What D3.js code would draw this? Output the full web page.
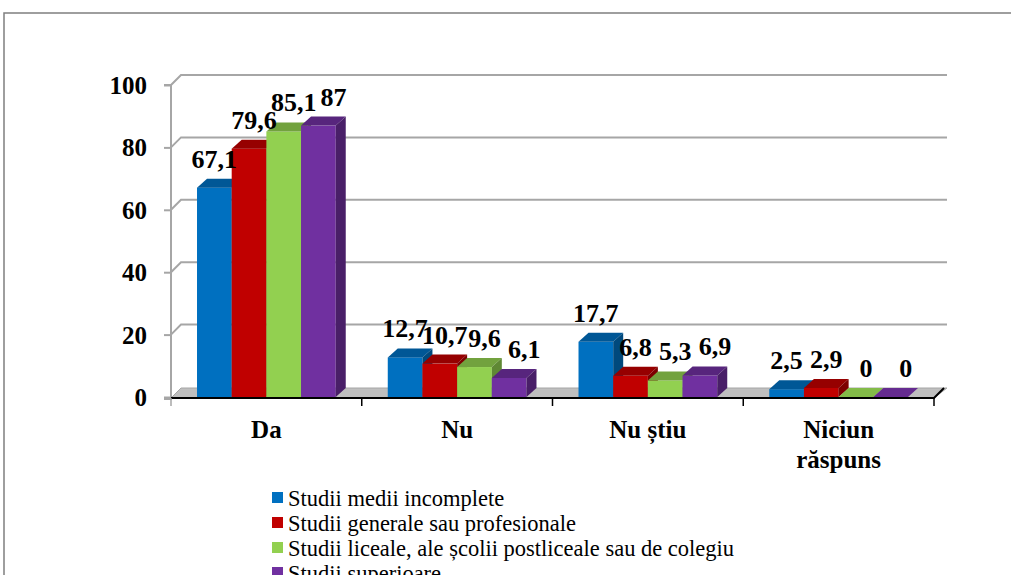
<!DOCTYPE html>
<html>
<head>
<meta charset="utf-8">
<script src="https://cdn.jsdelivr.net/npm/d3@7"></script>
</head>
<body style="margin:0; background:#fff">
<div id="chart"></div>
<script>
// chart data
const categories = ["Da", "Nu", "Nu știu", "Niciun răspuns"];
const series = [
    "Studii medii incomplete",
    "Studii generale sau profesionale",
    "Studii liceale, ale școlii postliceale sau de colegiu",
    "Studii superioare"
];
const values = [
    [67.1, 12.7, 17.7, 2.5],
    [79.6, 10.7, 6.8, 2.9],
    [85.1, 9.6, 5.3, 0],
    [87, 6.1, 6.9, 0]
];
const yTicks = [0, 20, 40, 60, 80, 100];
const colors = ["#0070C0", "#C00000", "#92D050", "#7030A0"];

const W = 1011, H = 575;
const serifFont = "Times New Roman";
const depth = { dx: 10, dy: -10 };

const svg = d3.select("#chart").append("svg")
    .attr("width", W)
    .attr("height", H)
    .style("display", "block");

// every text gets the serif font through its own style attribute
function styleText(sel, size, bold) {
    return sel.attr("style", "font-family: " + serifFont + "; font-size: " + size + "px; font-weight: " + (bold ? "bold" : "normal"));
}

// outer frame (cut by the window on the right and bottom)
svg.append("path")
    .attr("d", "M4," + H + "V13H" + W)
    .attr("fill", "none")
    .attr("stroke", "#7f7f7f")
    .attr("stroke-width", 1.5);

const x = d3.scaleBand()
    .domain(categories)
    .range([171, 934])
    .paddingInner(0);

const xs = d3.scaleBand()
    .domain(d3.range(series.length))
    .range([0, x.bandwidth()])
    .paddingInner(0)
    .paddingOuter(0.75);

const y = d3.scaleLinear()
    .domain([0, 100])
    .range([397, 85]);

const x0 = x.range()[0], x1 = x.range()[1];

// back gridlines with the diagonal from the left wall
const grid = svg.append("g");
yTicks.filter(d => d > 0).forEach(t => {
    grid.append("polyline")
        .attr("points", [[x0, y(t)], [x0 + depth.dx, y(t) + depth.dy], [x1 + 13, y(t) + depth.dy]].join(" "))
        .attr("fill", "none")
        .attr("stroke", "#a6a6a6")
        .attr("stroke-width", 2);
});

// floor
svg.append("polygon")
    .attr("points", [
        [x0, y(0) + 1], [x0 + depth.dx, y(0) + 1 + depth.dy],
        [x1 + 13, y(0) + 1 + depth.dy], [x1, y(0) + 1]
    ].join(" "))
    .attr("fill", "#bfbfbf")
    .attr("stroke", "#a6a6a6")
    .attr("stroke-width", 1);

// y axis: line and ticks from d3.axisLeft, labels drawn as plain texts
const yAxis = d3.axisLeft(y)
    .tickValues(yTicks)
    .tickSize(7)
    .tickFormat("");
const yg = svg.append("g")
    .attr("transform", "translate(" + x0 + ",0)")
    .call(yAxis);
yg.select(".domain").attr("stroke", "#a6a6a6").attr("stroke-width", 2)
    .attr("d", "M-7," + y(100) + "H0V" + (y(0) + 2) + "H-7");
yg.selectAll(".tick line").attr("stroke", "#a6a6a6").attr("stroke-width", 2);
yg.selectAll(".tick text").remove();
yTicks.forEach(t => {
    styleText(svg.append("text"), 25, true)
        .attr("x", x0 - 24)
        .attr("y", y(t) + 9)
        .attr("text-anchor", "end")
        .attr("fill", "#000")
        .text(t);
});

// bars
const bars = svg.append("g");
categories.forEach((c, ci) => {
    series.forEach((s, si) => {
        const v = values[si][ci];
        const bx = x(c) + xs(si);
        const bw = xs.bandwidth();
        const top = y(v), base = y(0);
        const col = d3.color(colors[si]);
        const g = bars.append("g");
        if (v > 0) {
            g.append("rect")
                .attr("x", bx).attr("y", top)
                .attr("width", bw).attr("height", base - top)
                .attr("fill", col);
        }
        // top face
        g.append("polygon")
            .attr("points", [[bx, top], [bx + depth.dx, top + depth.dy + 1], [bx + bw + depth.dx, top + depth.dy + 1], [bx + bw, top]].join(" "))
            .attr("fill", v > 0 ? col.darker(0.7) : col.darker(0.3));
        // side face
        g.append("polygon")
            .attr("points", [[bx + bw, top], [bx + bw + depth.dx, top + depth.dy + 1], [bx + bw + depth.dx, base + depth.dy + 1], [bx + bw, base]].join(" "))
            .attr("fill", col.darker(1.2));
    });
});

// front floor edge and category ticks
const catTicks = categories.map(c => x(c)).concat([x1]);
const xg = svg.append("g")
    .attr("transform", "translate(0," + (y(0) + 1) + ")");
xg.append("path")
    .attr("d", "M" + x0 + ",0H" + x1 + "l" + depth.dx + "," + depth.dy)
    .attr("fill", "none")
    .attr("stroke", "#000")
    .attr("stroke-width", 2);
xg.selectAll(".cat-tick")
    .data(catTicks)
    .enter().append("line")
    .attr("x1", d => d).attr("x2", d => d)
    .attr("y1", 0).attr("y2", 8)
    .attr("stroke", d => d === x0 ? "#a6a6a6" : "#000")
    .attr("stroke-width", 1.5);

// category labels
categories.forEach(c => {
    const words = c === "Niciun răspuns" ? ["Niciun", "răspuns"] : [c];
    words.forEach((w, i) => {
        styleText(svg.append("text"), 25, true)
            .attr("x", x(c) + x.bandwidth() / 2)
            .attr("y", 438 + i * 30)
            .attr("text-anchor", "middle")
            .text(w);
    });
});

// data labels
const fmt = v => String(v).replace(".", ",");
categories.forEach((c, ci) => {
    series.forEach((s, si) => {
        const v = values[si][ci];
        const cx = x(c) + xs(si) + xs.bandwidth() / 2 + si * 5;
        styleText(svg.append("text"), 26, true)
            .attr("x", cx)
            .attr("y", y(v) + depth.dy - 10)
            .attr("text-anchor", "middle")
            .text(fmt(v));
    });
});

// legend
const legend = svg.append("g").attr("transform", "translate(272,492)");
series.forEach((s, i) => {
    const row = legend.append("g").attr("transform", "translate(0," + i * 25 + ")");
    row.append("rect")
        .attr("x", 0).attr("y", 0)
        .attr("width", 11).attr("height", 11)
        .attr("fill", colors[i]);
    styleText(row.append("text"), 22.5, false)
        .attr("x", 16).attr("y", 14)
        .text(s);
});
</script>
</body>
</html>
